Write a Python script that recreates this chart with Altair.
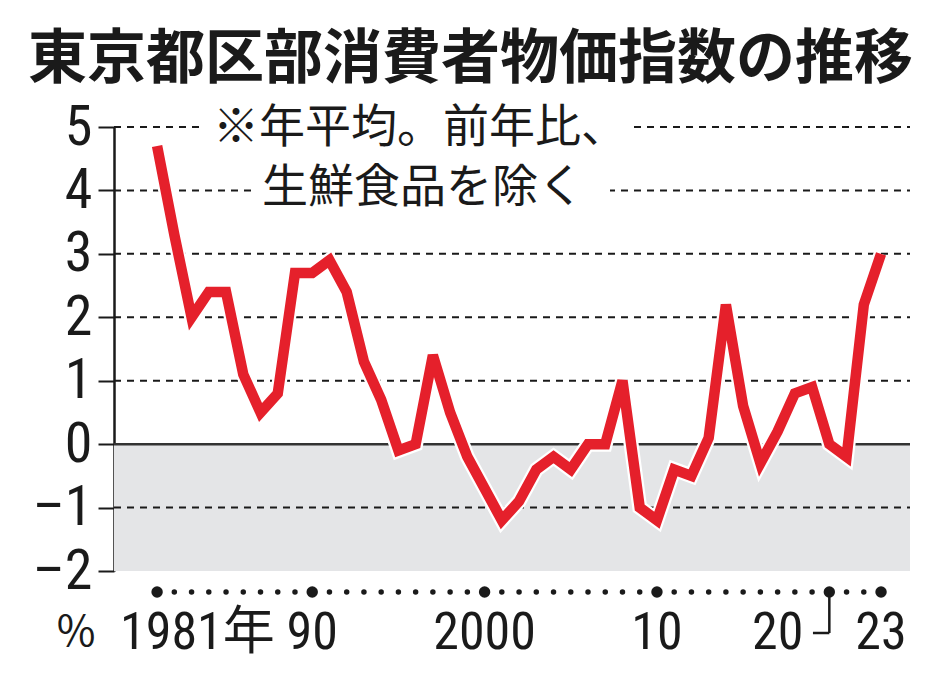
import altair as alt
import pandas as pd

# ---- data ----
years = list(range(1981, 2024))
values = [4.7, 3.3, 2.0, 2.4, 2.4, 1.1, 0.5, 0.8, 2.7, 2.7,
          2.9, 2.4, 1.3, 0.7, -0.1, 0.0, 1.4, 0.5, -0.2, -0.7,
          -1.2, -0.9, -0.4, -0.2, -0.4, 0.0, 0.0, 1.0, -1.0, -1.2,
          -0.4, -0.5, 0.1, 2.2, 0.6, -0.3, 0.2, 0.8, 0.9, 0.0,
          -0.2, 2.2, 3.0]
major_years = [1981, 1990, 2000, 2010, 2020, 2023]
tick_labels = ["1981年", "90", "2000", "10", "20", "23"]
y_ticks = [-2, -1, 0, 1, 2, 3, 4, 5]
grid_values = [5, 4, 3, 2, 1, -1]
title_text = "東京都区部消費者物価指数の推移"
note_lines = ["※年平均。前年比、", "生鮮食品を除く"]
unit_label = "%"

W, H = 796, 444
DIGIT = "Roboto Condensed, Liberation Sans Narrow, Arial Narrow, Roboto, Noto Sans CJK JP"
CJK = "Noto Sans CJK JP"
INK = "#1a1a1a"
RED = "#e5202b"

xs = alt.Scale(domain=[1978.5, 2024.68], nice=False, zero=False)
ys = alt.Scale(domain=[-2, 5], nice=False, zero=False)

yaxis = alt.Axis(values=y_ticks, title=None, grid=False,
                 labelFont=DIGIT, labelFontSize=56, labelColor=INK,
                 labelPadding=6, tickSize=16, tickWidth=2, tickColor=INK,
                 domainColor=INK, domainWidth=2.5, labelOverlap=False,
                 labelFlush=False,
                 labelExpr="replace(replace(datum.label, '\u2212', '\u2013'), '-', '\u2013')")

df = pd.DataFrame({"year": years, "value": values})
dots = pd.DataFrame({"year": years,
                     "sz": [130 if y in major_years else 30 for y in years]})
labels = pd.DataFrame({"year": major_years, "label": tick_labels})

# gray negative zone
neg = alt.Chart(pd.DataFrame({"lo": [-2], "hi": [0]})).mark_rect(
    color="#e4e5e7").encode(
    x=alt.value(0), x2=alt.value(W),
    y=alt.Y("hi:Q", scale=ys, axis=yaxis), y2="lo:Q")

# dashed grid
grid = alt.Chart(pd.DataFrame({"value": grid_values})).mark_rule(
    color=INK, strokeWidth=2, strokeDash=[7, 6]
).encode(y=alt.Y("value:Q", scale=ys, axis=yaxis), x=alt.value(0), x2=alt.value(W))

zero = alt.Chart(pd.DataFrame({"value": [0]})).mark_rule(
    color="#333333", strokeWidth=2.5
).encode(y=alt.Y("value:Q", scale=ys, axis=yaxis), x=alt.value(0), x2=alt.value(W))

# white boxes behind the note
box1 = alt.Chart(pd.DataFrame({"a": [0]})).mark_rect(color="white").encode(
    x=alt.value(91), x2=alt.value(514), y=alt.value(-19), y2=alt.value(21))
box2 = alt.Chart(pd.DataFrame({"a": [0]})).mark_rect(color="white").encode(
    x=alt.value(141), x2=alt.value(496), y=alt.value(41), y2=alt.value(81))

note1 = alt.Chart(pd.DataFrame({"t": [note_lines[0]]})).mark_text(
    font=CJK, fontSize=46, align="left", baseline="middle", color=INK
).encode(text="t:N", x=alt.value(99), y=alt.value(1))
note2 = alt.Chart(pd.DataFrame({"t": [note_lines[1]]})).mark_text(
    font=CJK, fontSize=46, align="left", baseline="middle", color=INK
).encode(text="t:N", x=alt.value(148), y=alt.value(61))

halo = alt.Chart(df).mark_line(color="white", strokeWidth=15, strokeJoin="miter").encode(
    x=alt.X("year:Q", scale=xs, axis=None),
    y=alt.Y("value:Q", scale=ys, axis=yaxis))
line = alt.Chart(df).mark_line(color=RED, strokeWidth=10.5, strokeJoin="miter").encode(
    x=alt.X("year:Q", scale=xs, axis=None),
    y=alt.Y("value:Q", scale=ys, axis=yaxis))

# year dots
dot_layer = alt.Chart(dots).mark_circle(color=INK, opacity=1).encode(
    x=alt.X("year:Q", scale=xs, axis=None),
    y=alt.value(465),
    size=alt.Size("sz:Q", scale=None, legend=None))

lbl_common = dict(font=DIGIT, fontSize=52, color=INK, baseline="middle")
lbl_center = alt.Chart(labels).transform_filter(
    "datum.year != 1981 && datum.year != 2020").mark_text(
    align="center", **lbl_common).encode(
    x=alt.X("year:Q", scale=xs, axis=None), y=alt.value(506), text="label:N")
lbl_first = alt.Chart(labels).transform_filter("datum.year == 1981").mark_text(
    align="left", dx=-37, **lbl_common).encode(
    x=alt.X("year:Q", scale=xs, axis=None), y=alt.value(506), text="label:N")
lbl_20 = alt.Chart(labels).transform_filter("datum.year == 2020").mark_text(
    align="right", dx=-26, **lbl_common).encode(
    x=alt.X("year:Q", scale=xs, axis=None), y=alt.value(506), text="label:N")

# bracket from 2020 dot to its label
brk = labels[labels.year == 2020]
brk_v = alt.Chart(brk).mark_rule(color=INK, strokeWidth=2.5).encode(
    x=alt.X("year:Q", scale=xs, axis=None), y=alt.value(465), y2=alt.value(506))
brk_h = alt.Chart(brk).transform_calculate(x0="datum.year - 0.95").mark_rule(
    color=INK, strokeWidth=2.5).encode(
    x=alt.X("x0:Q", scale=xs, axis=None), x2="year:Q", y=alt.value(506))

unit = alt.Chart(pd.DataFrame({"t": [unit_label]})).mark_text(
    align="center", font=CJK, fontSize=42, color=INK, baseline="middle"
).encode(text="t:N", x=alt.value(-38), y=alt.value(506))

title = alt.Chart(pd.DataFrame({"t": [title_text]})).mark_text(
    font=CJK, fontSize=59, fontWeight="bold", align="left", baseline="middle",
    color=INK).encode(text="t:N", x=alt.value(-86), y=alt.value(-67))

chart = alt.layer(
    neg, grid, zero, box1, box2, note1, note2, halo, line, dot_layer,
    lbl_center, lbl_first, lbl_20, brk_v, brk_h, unit, title
).properties(
    width=W, height=H,
    autosize=alt.AutoSizeParams(type="none"),
    padding={"left": 114, "top": 127, "right": 24, "bottom": 109},
    background="white"
).configure_view(stroke=None)

chart.save("out.html", embed_options={"renderer": "svg", "actions": False})
